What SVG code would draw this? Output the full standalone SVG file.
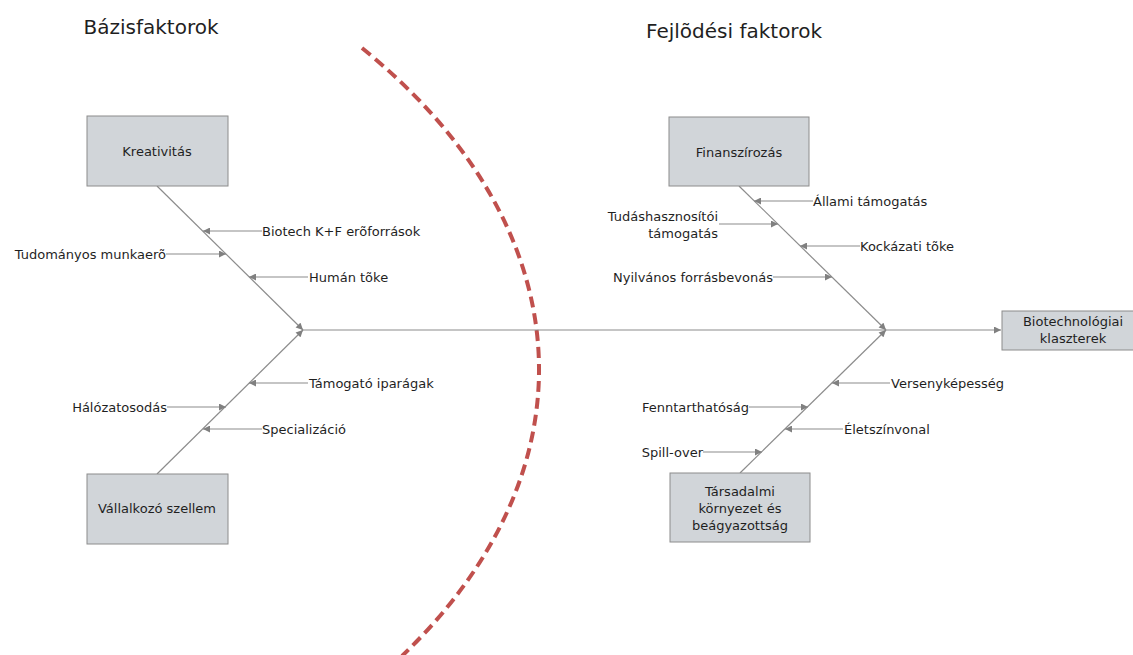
<svg xmlns="http://www.w3.org/2000/svg" width="1133" height="655" viewBox="0 0 1133 655">
<defs>
<style>
text{font-family:"DejaVu Sans","Liberation Sans",sans-serif;font-size:13px;fill:#1F1F1F}
.title{font-size:20px}
.box{fill:#D1D5D9;stroke:#8C8C8C;stroke-width:1}
.sub{stroke:#8C8C8C;stroke-width:1.2;fill:none;marker-end:url(#ah)}
.mid{text-anchor:middle}
.end{text-anchor:end}
</style>
<marker id="ah" viewBox="0 0 10 10" refX="10" refY="5" markerWidth="8" markerHeight="7" markerUnits="userSpaceOnUse" orient="auto">
<path d="M0,0 L10,5 L0,10 z" fill="#808080"/>
</marker>
</defs>
<rect width="1133" height="655" fill="#FFFFFF"/>
<text class="title mid" x="151" y="34">Bázisfaktorok</text>
<text class="title mid" x="734" y="38">Fejlõdési faktorok</text>
<path d="M362,48 A900,540 0 0 1 402,656" fill="none" stroke="#C0504D" stroke-width="4" stroke-dasharray="11,6"/>
<g id="connectors">
<line class="sub" x1="303" y1="330" x2="1001" y2="330"/>
<line class="sub" x1="157" y1="186" x2="303" y2="330"/>
<line class="sub" x1="157" y1="474" x2="303" y2="330"/>
<line class="sub" x1="739" y1="186" x2="886" y2="330"/>
<line class="sub" x1="740" y1="473" x2="886" y2="330"/>
<line class="sub" x1="262" y1="231" x2="203" y2="231"/>
<line class="sub" x1="166" y1="254" x2="226" y2="254"/>
<line class="sub" x1="308" y1="277" x2="249" y2="277"/>
<line class="sub" x1="308" y1="383" x2="249" y2="383"/>
<line class="sub" x1="167" y1="407" x2="226" y2="407"/>
<line class="sub" x1="262" y1="429" x2="203" y2="429"/>
<line class="sub" x1="813" y1="201" x2="754" y2="201"/>
<line class="sub" x1="719" y1="224" x2="778" y2="224"/>
<line class="sub" x1="860" y1="246" x2="800" y2="246"/>
<line class="sub" x1="773" y1="277" x2="832" y2="277"/>
<line class="sub" x1="890" y1="383" x2="832" y2="383"/>
<line class="sub" x1="749" y1="407" x2="808" y2="407"/>
<line class="sub" x1="843" y1="429" x2="785" y2="429"/>
<line class="sub" x1="703" y1="452" x2="762" y2="452"/>
</g>
<g id="kreativitas"><rect class="box" x="87" y="116" width="141" height="70"/><text class="mid" x="157" y="156">Kreativitás</text></g>
<g id="vallalkozo"><rect class="box" x="87" y="474" width="141" height="70"/><text class="mid" x="157" y="513">Vállalkozó szellem</text></g>
<g id="finanszirozas"><rect class="box" x="669" y="117" width="140" height="69"/><text class="mid" x="739" y="157">Finanszírozás</text></g>
<g id="tarsadalmi"><rect class="box" x="670" y="473" width="140" height="69"/><text class="mid" x="740" y="496">Társadalmi</text><text class="mid" x="740" y="513">környezet és</text><text class="mid" x="740" y="530">beágyazottság</text></g>
<g id="biotech"><rect class="box" x="1002" y="311" width="135" height="39"/><text class="mid" x="1073" y="326">Biotechnológiai</text><text class="mid" x="1073" y="343">klaszterek</text></g>
<g id="labels">
<text x="262" y="236">Biotech K+F erõforrások</text>
<text class="end" x="166" y="259">Tudományos munkaerõ</text>
<text x="309" y="282">Humán tõke</text>
<text x="309" y="388">Támogató iparágak</text>
<text class="end" x="167" y="412">Hálózatosodás</text>
<text x="262" y="434">Specializáció</text>
<text x="813" y="206">Állami támogatás</text>
<text class="end" x="718" y="221">Tudáshasznosítói</text>
<text class="end" x="718" y="238">támogatás</text>
<text x="860" y="251">Kockázati tõke</text>
<text class="end" x="773" y="282">Nyilvános forrásbevonás</text>
<text x="891" y="388">Versenyképesség</text>
<text class="end" x="749" y="412">Fenntarthatóság</text>
<text x="844" y="434">Életszínvonal</text>
<text class="end" x="703" y="457">Spill-over</text>
</g>
</svg>
